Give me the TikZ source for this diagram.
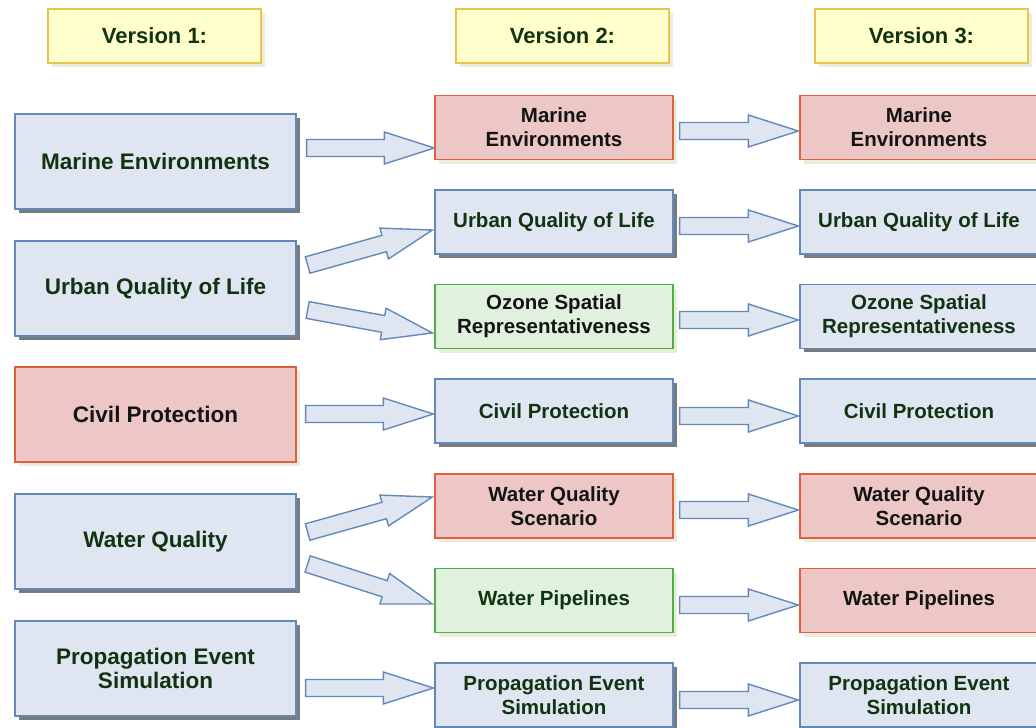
\documentclass[tikz,border=0pt]{standalone}
\usepackage{fontspec}
\setmainfont{Liberation Sans}
\usetikzlibrary{calc,shadows}

\definecolor{bluefill}{HTML}{E0E6F1}
\definecolor{blueline}{HTML}{6389BB}
\definecolor{redfill}{HTML}{ECC7C6}
\definecolor{redline}{HTML}{E0603C}
\definecolor{greenfill}{HTML}{E0F2DE}
\definecolor{greenline}{HTML}{4DAE4A}
\definecolor{yellowfill}{HTML}{FFFFCC}
\definecolor{yellowline}{HTML}{E8C44E}
\definecolor{darkgreentext}{HTML}{123312}
\definecolor{blacktext}{HTML}{141414}
\definecolor{greyshadow}{HTML}{7A7A7A}
\definecolor{beigeshadow}{HTML}{ECECDC}

\tikzset{
  boxbase/.style={draw, line width=1.3pt, align=center, inner sep=0pt,
    font=\bfseries\fontsize{20.5}{24}\selectfont},
  bigbox/.style={boxbase, minimum width=281pt, minimum height=95pt,
    font=\bfseries\fontsize{22.5}{24.5}\selectfont},
  smallbox/.style={boxbase, minimum width=238pt, minimum height=64pt},
  bluebox/.style={fill=bluefill, draw=blueline, text=darkgreentext,
    drop shadow={shadow xshift=3.5pt, shadow yshift=-3.5pt, fill=greyshadow, opacity=1}},
  redbox/.style={fill=redfill, draw=redline, text=blacktext,
    drop shadow={shadow xshift=4pt, shadow yshift=-4pt, fill=beigeshadow, opacity=1}},
  greenbox/.style={fill=greenfill, draw=greenline,
    drop shadow={shadow xshift=4pt, shadow yshift=-4pt, fill=beigeshadow, opacity=1}},
  headbox/.style={boxbase, fill=yellowfill, draw=yellowline, text=darkgreentext,
    minimum width=213pt, minimum height=54pt,
    font=\bfseries\fontsize{22}{24}\selectfont,
    drop shadow={shadow xshift=4pt, shadow yshift=-4pt, fill=beigeshadow, opacity=1}},
  blockarr/.style={draw=blueline, fill=bluefill, line width=1.4pt, line join=miter},
}

% wide block arrow from #1 (tail centre) to #2 (tip)
\newcommand\blockarrow[2]{%
  \coordinate (headbase) at ($(#2)!50pt!(#1)$);
  \draw[blockarr]
    ($(#1)!8.5pt!90:(#2)$) -- ($(headbase)!8.5pt!90:(#2)$) --
    ($(headbase)!16pt!90:(#2)$) -- (#2) --
    ($(headbase)!16pt!-90:(#2)$) -- ($(headbase)!8.5pt!-90:(#2)$) --
    ($(#1)!8.5pt!-90:(#2)$) -- cycle;}

\begin{document}
\begin{tikzpicture}[x=1pt, y=-1pt]
\useasboundingbox (0,0) rectangle (1036,728);

% column headings
\node[headbox] (h1) at (154.5,36) {Version 1:};
\node[headbox] (h2) at (562.5,36) {Version 2:};
\node[headbox] (h3) at (921.5,36) {Version 3:};

% version 1
\node[bigbox, bluebox] (v1a) at (155.5,161.5) {Marine Environments};
\node[bigbox, bluebox] (v1b) at (155.5,288.5) {Urban Quality of Life};
\node[bigbox, redbox]  (v1c) at (155.5,414.5) {Civil Protection};
\node[bigbox, bluebox] (v1d) at (155.5,541.5) {Water Quality};
\node[bigbox, bluebox] (v1e) at (155.5,668.5) {Propagation Event\\Simulation};

% version 2
\node[smallbox, redbox]   (v2a) at (554,127.5) {Marine\\Environments};
\node[smallbox, bluebox]  (v2b) at (554,222)   {Urban Quality of Life};
\node[smallbox, greenbox, text=blacktext] (v2c) at (554,316.5) {Ozone Spatial\\Representativeness};
\node[smallbox, bluebox]  (v2d) at (554,411)   {Civil Protection};
\node[smallbox, redbox]   (v2e) at (554,506)   {Water Quality\\Scenario};
\node[smallbox, greenbox, text=darkgreentext] (v2f) at (554,600.5) {Water Pipelines};
\node[smallbox, bluebox]  (v2g) at (554,695)   {Propagation Event\\Simulation};

% version 3
\node[smallbox, redbox]  (v3a) at (919,127.5) {Marine\\Environments};
\node[smallbox, bluebox] (v3b) at (919,222)   {Urban Quality of Life};
\node[smallbox, bluebox] (v3c) at (919,316.5) {Ozone Spatial\\Representativeness};
\node[smallbox, bluebox] (v3d) at (919,411)   {Civil Protection};
\node[smallbox, redbox]  (v3e) at (919,506)   {Water Quality\\Scenario};
\node[smallbox, redbox]  (v3f) at (919,600.5) {Water Pipelines};
\node[smallbox, bluebox] (v3g) at (919,695)   {Propagation Event\\Simulation};

% arrow ends, version 1 -> version 2
\coordinate (s1a) at ($(v1a.east)+(10,-13.5)$);  \coordinate (e1a) at ($(v2a.west)+(0,20.5)$);
\coordinate (s1b) at ($(v1b.east)+(11,-23.5)$);  \coordinate (e1b) at ($(v2b.west)+(-2,8)$);
\coordinate (s1c) at ($(v1b.east)+(11,21.5)$);   \coordinate (e1c) at ($(v2c.west)+(-2,16.5)$);
\coordinate (s1d) at ($(v1c.east)+(9,-0.5)$);    \coordinate (e1d) at ($(v2d.west)+(-1,3)$);
\coordinate (s1e) at ($(v1d.east)+(11,-9.5)$);   \coordinate (e1e) at ($(v2e.west)+(-2,-9)$);
\coordinate (s1f) at ($(v1d.east)+(11,22.5)$);   \coordinate (e1f) at ($(v2f.west)+(-2,3.5)$);
\coordinate (s1g) at ($(v1e.east)+(9,19.5)$);    \coordinate (e1g) at ($(v2g.west)+(-1,-7)$);

% arrow ends, version 2 -> version 3
\coordinate (s2a) at ($(v2a.east)+(6,3.5)$);   \coordinate (e2a) at ($(v3a.west)+(-1,3.5)$);
\coordinate (s2b) at ($(v2b.east)+(6,4)$);     \coordinate (e2b) at ($(v3b.west)+(-1,4)$);
\coordinate (s2c) at ($(v2c.east)+(6,3.5)$);   \coordinate (e2c) at ($(v3c.west)+(-1,3.5)$);
\coordinate (s2d) at ($(v2d.east)+(6,5)$);     \coordinate (e2d) at ($(v3d.west)+(-1,5)$);
\coordinate (s2e) at ($(v2e.east)+(6,4)$);     \coordinate (e2e) at ($(v3e.west)+(-1,4)$);
\coordinate (s2f) at ($(v2f.east)+(6,4.5)$);   \coordinate (e2f) at ($(v3f.west)+(-1,4.5)$);
\coordinate (s2g) at ($(v2g.east)+(6,5)$);     \coordinate (e2g) at ($(v3g.west)+(-1,5)$);

\blockarrow{s1a}{e1a}
\blockarrow{s1b}{e1b}
\blockarrow{s1c}{e1c}
\blockarrow{s1d}{e1d}
\blockarrow{s1e}{e1e}
\blockarrow{s1f}{e1f}
\blockarrow{s1g}{e1g}

\blockarrow{s2a}{e2a}
\blockarrow{s2b}{e2b}
\blockarrow{s2c}{e2c}
\blockarrow{s2d}{e2d}
\blockarrow{s2e}{e2e}
\blockarrow{s2f}{e2f}
\blockarrow{s2g}{e2g}
\end{tikzpicture}
\end{document}
